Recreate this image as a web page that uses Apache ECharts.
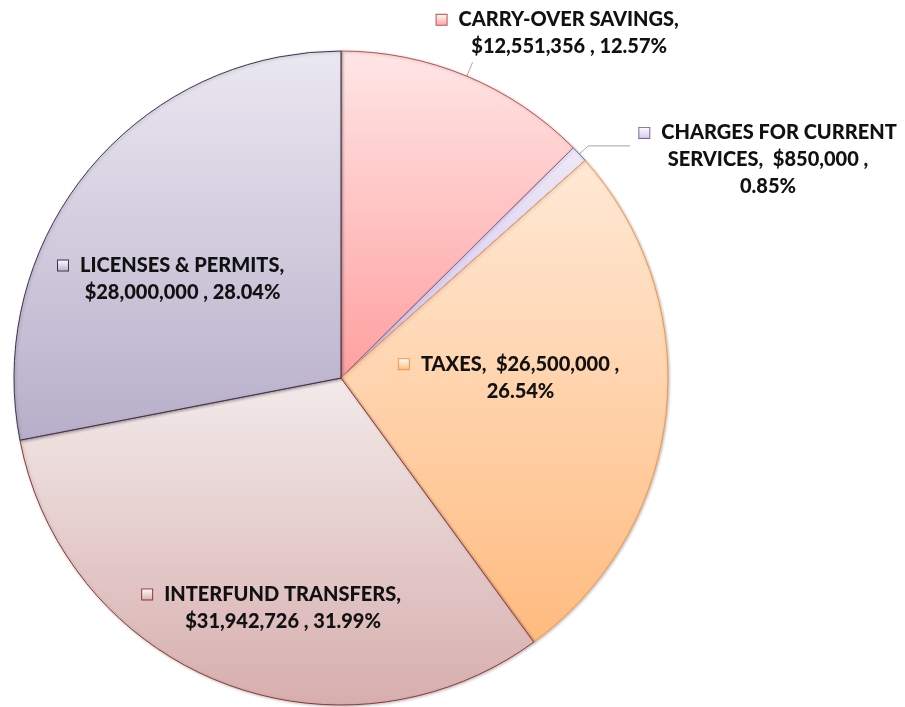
<!DOCTYPE html>
<html lang="en">
<head>
    <meta charset="UTF-8">
    <title>Revenue sources</title>
    <style>
        html, body { margin: 0; padding: 0; background: #fff; }
    </style>
</head>
<body>
<div class="main" style="width: 905px;height: 707px;"></div>
<script src="https://cdn.jsdelivr.net/npm/echarts@6/dist/echarts.min.js"></script>
<script>
    // 数据
    var names = ['CARRY-OVER SAVINGS', 'CHARGES FOR CURRENT\nSERVICES', 'TAXES', 'INTERFUND TRANSFERS', 'LICENSES & PERMITS'];
    var amounts = [12551356, 850000, 26500000, 31942726, 28000000];
    // how each label breaks into lines ({n} name, {v} amount, {p} percent)
    var labelTemplates = ['{n},\n{v} , {p}', '{n},  {v} ,\n{p}', '{n},  {v} ,\n{p}', '{n},\n{v} , {p}', '{n},\n{v} , {p}'];

    // colours: top of gradient, bottom of gradient, border
    var topColors = ['#ffe6e6', '#eee8f7', '#ffe9d6', '#f3eaea', '#eae8f1'];
    var bottomColors = ['#ff9f9f', '#d3c6ee', '#ffbb7f', '#d7aeae', '#b7aec9'];
    var borderColors = ['#c0504d', '#8064a2', '#f79646', '#943634', '#3f3151'];

    // label shift from the default echarts position
    var labelShift = [
        {dx: -41, dy: -29},
        {dx: 3, dy: 14},
        {dx: 14, dy: -18},
        {dx: 3, dy: 75},
        {dx: -30, dy: 7}
    ];

    var total = amounts.reduce(function (a, b) { return a + b; }, 0);

    var main = document.querySelector(".main");
    var mainEcharts = echarts.init(main);

    var fmtMoney = function (v) {
        return '$' + v.toString().replace(/\B(?=(\d{3})+(?!\d))/g, ',');
    };

    var rich = {
        t: {fontFamily: 'Lato', fontWeight: 900, fontSize: 20, color: '#111', lineHeight: 27, align: 'center'},
        gap: {width: 12, align: 'center'},
        sp: {width: 23, align: 'center'}
    };
    borderColors.forEach(function (c, i) {
        rich['box' + i] = {
            width: 10, height: 10,
            align: 'center',
            borderColor: c, borderWidth: 1,
            backgroundColor: {
                type: 'linear', x: 0, y: 0, x2: 0, y2: 1,
                colorStops: [{offset: 0, color: '#fff'}, {offset: 1, color: bottomColors[i]}]
            }
        };
    });

    var data = names.map(function (n, i) {
        return {
            name: n,
            value: amounts[i],
            itemStyle: {
                color: {
                    type: 'linear', x: 0, y: 0, x2: 0, y2: 1,
                    colorStops: [{offset: 0, color: topColors[i]}, {offset: 1, color: bottomColors[i]}]
                },
                borderColor: borderColors[i],
                borderWidth: 1
            },
            label: {position: (i < 2) ? 'outside' : 'inside'},
            labelLine: (i === 0) ? {length: 15, length2: 0} : {length: 12, length2: 42}
        };
    });

    var option = {
        animation: false,
        series: [
            {
                type: 'pie',
                center: [341, 378],
                radius: [0, 327],
                startAngle: 90,
                clockwise: true,
                data: data,
                itemStyle: {
                    shadowBlur: 3,
                    shadowColor: 'rgba(0,0,0,0.25)',
                    shadowOffsetX: 1,
                    shadowOffsetY: 1
                },
                label: {
                    show: true,
                    align: 'center',
                    formatter: function (p) {
                        var pct = (p.value / total * 100).toFixed(2) + '%';
                        var txt = labelTemplates[p.dataIndex]
                            .replace('{n}', p.name)
                            .replace('{v}', fmtMoney(p.value))
                            .replace('{p}', pct);
                        return txt.split('\n').map(function (line, k) {
                            if (k === 0) {
                                return '{box' + p.dataIndex + '|}{gap|}{t|' + line + '}{sp|}';
                            }
                            return '{t|' + line + '}';
                        }).join('\n');
                    },
                    rich: rich
                },
                labelLine: {
                    show: true,
                    lineStyle: {color: '#a6a6a6', width: 1}
                },
                labelLayout: function (params) {
                    return labelShift[params.dataIndex];
                }
            }
        ]
    };
    mainEcharts.setOption(option);
</script>
</body>
</html>
